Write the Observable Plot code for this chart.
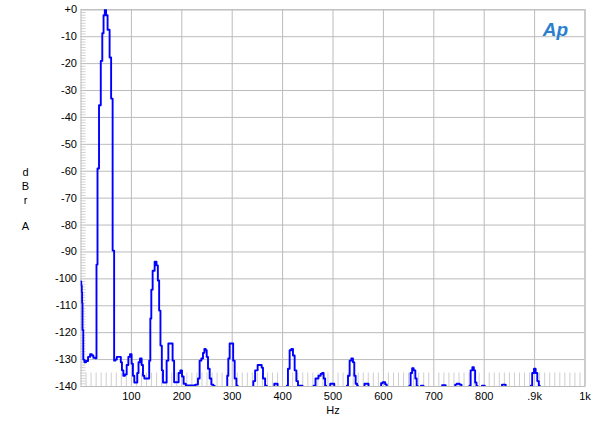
<!DOCTYPE html>
<html>
<head>
<meta charset="utf-8">
<script src="https://cdn.jsdelivr.net/npm/d3@7"></script>
<script src="https://cdn.jsdelivr.net/npm/@observablehq/plot@0.6"></script>
<style>
  html, body { margin: 0; padding: 0; background: #fff; }
  #chart { width: 600px; height: 433px; }
</style>
</head>
<body>
<div id="chart"></div>
<script>
// Spectrum trace (frequency in Hz, level in dBr A).
// Values below the -140 floor are drawn off-scale (clipped), as in the original.
const freqHz = [
  0,1,2,2.5,3.5,5.5,8,12,16,20,23,26,30.5,
  31,32.5,33,35.5,36,39,39.5,42,42.5,44.5,45,47,47.5,49.5,50,52.5,53,56.5,57,59.5,60,62.5,63,65.5,66,
  70,72,78,80,82.5,85.5,89,92.3,95.6,98.8,102,104,107.5,110.7,112.7,115.5,118.6,122,124,127.3,134,136.6,138.5,140.5,143.8,148.4,151.2,153.8,156.3,159,161.7,163.7,168.2,171.6,175,180,183.5,186,192,195.4,198.8,202,205.3,210.7,223,230.5,233.7,237,240.5,243.6,246,248.5,250.4,253.6,257,260.3,264.9,266,
  289,291.3,293.3,296.6,300.6,303.2,306.6,310,312,
  341,342.8,348.2,352.8,357.5,359.5,362.7,368,369,
  383,384,389.6,390.6,
  408,409,412.3,415.6,419,422.2,425.6,429,432.1,438.9,440,
  461,462,468.6,473.8,477.2,479.7,483.1,485.7,487,
  494,495,502,503,
  527,528.2,531.3,534.7,538,541.3,543.2,546.6,549.2,550,
  562,563,570,571,
  595,596,601,606,607,
  651,652.3,655.7,658.3,661.7,665,667,668,
  674,675,679,680,
  716,717,723,724,
  742,743,748,754.4,755.5,
  770,771.4,774.8,778.2,780.7,783.3,786,787,
  795,796,800.6,801.6,
  835,835.7,842.2,843,
  892,893.2,897.2,900.4,903.7,907,909.6,911,
  1000
];
const levelDb = [
  -101,-102.5,-105,-109,-119,-130,-131,-130.5,-129,-128,-128.5,-129.3,-129.5,
  -94.7,-94.7,-59,-59,-35.5,-35.5,-19,-19,-8.7,-8.7,-2,-2,0,0,-2,-2,-7.4,-7.4,-17.7,-17.7,-33,-33,-89.5,-89.5,-130.4,
  -130,-129,-129,-131,-134,-136,-135.5,-132,-129,-128,-131.5,-136,-138.5,-138.5,-135,-131,-129.6,-132,-136,-137,-137,-130.4,-114.7,-104,-97,-93.6,-95,-100.6,-111.8,-124.8,-134,-138.5,-138.5,-130.4,-124,-124,-130.4,-138.4,-138.4,-135,-134,-136.3,-139,-139.6,-139.6,-139.3,-137,-130.4,-129.6,-127.5,-126,-126.5,-129,-133.4,-137,-139.3,-139.8,-150,
  -150,-136,-129.6,-124,-124,-130.4,-137,-139.7,-150,
  -150,-138,-134,-132,-132,-133,-137,-139.7,-150,
  -150,-139,-139,-150,
  -150,-139.7,-133.4,-126.5,-126,-128.5,-134,-138,-139.7,-139.7,-150,
  -150,-139.7,-137,-136,-135.3,-135,-137,-139.7,-150,
  -150,-139,-139,-150,
  -150,-139.7,-136,-130.4,-129.6,-131,-136,-139,-139.7,-150,
  -150,-139,-139,-150,
  -150,-138.8,-138.4,-139.2,-150,
  -150,-139.7,-135,-133.2,-134,-137,-139.7,-150,
  -150,-139.7,-139.7,-150,
  -150,-139.5,-139.5,-150,
  -150,-139.3,-139,-139.3,-150,
  -150,-139.7,-134,-132.8,-134,-138.5,-139.7,-150,
  -150,-139.7,-139.7,-150,
  -150,-139.3,-139.3,-150,
  -150,-139.7,-135,-133.4,-135,-138,-139.7,-150,
  -150
];

const xTicks = [100, 200, 300, 400, 500, 600, 700, 800, 900, 1000];
const xTickLabels = ["100", "200", "300", "400", "500", "600", "700", "800", ".9k", "1k"];
const yTicks = [0, -10, -20, -30, -40, -50, -60, -70, -80, -90, -100, -110, -120, -130, -140];
const yTickLabels = ["+0", "-10", "-20", "-30", "-40", "-50", "-60", "-70", "-80", "-90", "-100", "-110", "-120", "-130", "-140"];
const yUnitLetters = ["d", "B", "r", "A"];
const xUnit = "Hz";
const logoText = "Ap";

const trace = freqHz.map((f, i) => ({f, db: levelDb[i]}));
const minorY = d3.range(-139, 0, 1).filter(v => v % 10 !== 0);
const floorHatch = d3.range(10, 1000, 10).filter(v => v % 100 !== 0);

const gridColor = "#bbbbbb";
const letterOffsets = [-25.6, -11.6, 2.4, 28.4];

const chart = Plot.plot({
  width: 600,
  height: 433,
  marginLeft: 80.5,
  marginRight: 15.5,
  marginTop: 9.3,
  marginBottom: 47,
  style: {fontFamily: "'Liberation Sans', Arial, sans-serif", fontSize: "11px", color: "#000", background: "#fff"},
  x: {
    domain: [0, 1000], ticks: xTicks, tickSize: 0, tickPadding: 6, label: null,
    tickFormat: d => xTickLabels[xTicks.indexOf(d)]
  },
  y: {
    domain: [-140, 0], ticks: yTicks, tickSize: 0, tickPadding: 4, label: null,
    tickFormat: d => yTickLabels[yTicks.indexOf(d)]
  },
  marks: [
    Plot.ruleX(floorHatch, {y1: -140, y2: -135, stroke: "#cfcfcf", strokeWidth: 1}),
    Plot.ruleY(minorY, {x1: 0, x2: 10, stroke: "#d0d0d0", strokeWidth: 1}),
    Plot.ruleX(xTicks, {stroke: gridColor, strokeWidth: 1}),
    Plot.ruleY(yTicks, {stroke: gridColor, strokeWidth: 1}),
    Plot.frame({stroke: gridColor}),
    Plot.line(trace, {x: "f", y: "db", curve: "step", stroke: "#0000ff", strokeWidth: 1.9, clip: true}),
    ...yUnitLetters.map((ch, i) => Plot.text([ch], {
      frameAnchor: "left", dx: -55.5, dy: letterOffsets[i],
      text: d => d, textAnchor: "middle", fontSize: 11
    })),
    Plot.text([xUnit], {frameAnchor: "bottom", dy: 27, text: d => d, fontSize: 11}),
    Plot.text([logoText], {
      frameAnchor: "top-right", dx: -17, dy: 13, text: d => d,
      fontSize: 19, fontStyle: "italic", fontWeight: "bold", fill: "#2a7fd0"
    })
  ]
});
document.getElementById("chart").appendChild(chart);
</script>
</body>
</html>
